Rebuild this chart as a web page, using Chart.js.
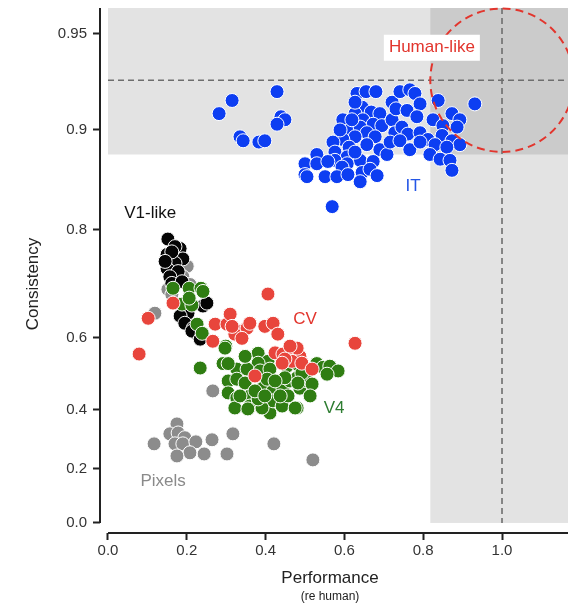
<!DOCTYPE html>
<html>
<head>
<meta charset="utf-8">
<script src="https://cdn.jsdelivr.net/npm/chart.js@4/dist/chart.umd.min.js"></script>
<style>
  html, body { margin: 0; padding: 0; background: #fff; overflow: hidden; }
  canvas { display: block; }
</style>
</head>
<body>
<canvas id="chart" width="568" height="608"></canvas>
<script>
// Axis ticks (consistency is shown on a Fisher-z axis)
const CONS_TICKS = [0, 0.2, 0.4, 0.6, 0.8, 0.9, 0.95];
const CONS_TICK_LABELS = ['0.0', '0.2', '0.4', '0.6', '0.8', '0.9', '0.95'];
const PERF_TICKS = [0, 0.2, 0.4, 0.6, 0.8, 1.0];

// IT (blue)
const IT_PERF = [0.282, 0.315, 0.429, 0.439, 0.449, 0.429, 0.335, 0.343, 0.383, 0.398,
  0.632, 0.655, 0.680, 0.645, 0.627, 0.668, 0.690, 0.596, 0.647, 0.673, 0.695, 0.614, 0.640,
  0.657, 0.627, 0.596, 0.571, 0.678, 0.612, 0.657, 0.690, 0.708, 0.576, 0.530, 0.607, 0.640,
  0.673, 0.500, 0.530, 0.576, 0.607, 0.594, 0.645, 0.665, 0.683, 0.500, 0.505, 0.551, 0.581,
  0.609, 0.640, 0.569, 0.627, 0.619, 0.589, 0.721, 0.721, 0.728, 0.716, 0.558, 0.627,
  0.741, 0.766, 0.779, 0.731, 0.759, 0.792, 0.784, 0.838, 0.931, 0.873, 0.893, 0.825, 0.850,
  0.886, 0.746, 0.761, 0.792, 0.812, 0.848, 0.873, 0.893, 0.741, 0.766, 0.792, 0.830, 0.860,
  0.817, 0.843, 0.868, 0.873];
const IT_CONS = [0.911, 0.919, 0.924, 0.909, 0.907, 0.904, 0.895, 0.892, 0.891, 0.892,
  0.923, 0.924, 0.924, 0.915, 0.911, 0.912, 0.911, 0.907, 0.907, 0.904, 0.903, 0.900, 0.902,
  0.898, 0.895, 0.893, 0.891, 0.895, 0.887, 0.889, 0.885, 0.881, 0.883, 0.881, 0.879, 0.876,
  0.875, 0.873, 0.873, 0.876, 0.873, 0.870, 0.865, 0.868, 0.862, 0.863, 0.861, 0.861, 0.861,
  0.863, 0.856, 0.829, 0.918, 0.907, 0.900, 0.918, 0.907, 0.898, 0.891, 0.875, 0.883,
  0.924, 0.925, 0.923, 0.914, 0.913, 0.917, 0.909, 0.919, 0.917, 0.911, 0.907, 0.907, 0.903,
  0.902, 0.902, 0.897, 0.898, 0.893, 0.896, 0.892, 0.889, 0.892, 0.885, 0.891, 0.889, 0.887,
  0.881, 0.877, 0.876, 0.867];

// V1-like (black)
const V1_PERF = [0.152, 0.183, 0.150, 0.175, 0.190, 0.170, 0.150, 0.178, 0.157, 0.170, 0.162,
  0.188, 0.203, 0.183, 0.195, 0.216, 0.226, 0.241, 0.241, 0.251, 0.213, 0.234, 0.162, 0.145];
const V1_CONS = [0.787, 0.773, 0.764, 0.757, 0.757, 0.750, 0.741, 0.736, 0.727, 0.776, 0.715,
  0.718, 0.656, 0.650, 0.634, 0.623, 0.609, 0.604, 0.671, 0.677, 0.616, 0.597, 0.768, 0.753];

// V4 (green)
const V4_PERF = [0.165, 0.206, 0.236, 0.241, 0.188, 0.213, 0.206, 0.226, 0.239, 0.299,
  0.234, 0.292, 0.381, 0.406, 0.381, 0.327, 0.353, 0.386, 0.411, 0.305, 0.327, 0.348, 0.393,
  0.419, 0.444, 0.449, 0.305, 0.327, 0.360, 0.322, 0.360, 0.381, 0.411, 0.419, 0.442, 0.480,
  0.462, 0.480, 0.487, 0.505, 0.530, 0.546, 0.563, 0.584, 0.556, 0.454, 0.480, 0.297, 0.305,
  0.335, 0.355, 0.391, 0.475, 0.492, 0.449, 0.482, 0.518, 0.457, 0.404, 0.381, 0.348, 0.424,
  0.513, 0.373, 0.437, 0.398];
const V4_CONS = [0.706, 0.706, 0.706, 0.700, 0.675, 0.673, 0.687, 0.632, 0.611, 0.580,
  0.523, 0.535, 0.562, 0.541, 0.536, 0.520, 0.520, 0.515, 0.520, 0.487, 0.492, 0.481, 0.466,
  0.458, 0.466, 0.437, 0.452, 0.437, 0.443, 0.406, 0.412, 0.418, 0.390, 0.428, 0.412, 0.406,
  0.487, 0.496, 0.466, 0.487, 0.535, 0.525, 0.528, 0.515, 0.506, 0.528, 0.534, 0.575, 0.535,
  0.443, 0.403, 0.406, 0.406, 0.509, 0.496, 0.481, 0.478, 0.443, 0.492, 0.434, 0.554, 0.487,
  0.443, 0.458, 0.443, 0.443];

// CV (red)
const CV_PERF = [0.079, 0.102, 0.165, 0.266, 0.272, 0.302, 0.310, 0.335, 0.353, 0.322, 0.340,
  0.315, 0.398, 0.419, 0.431, 0.406, 0.424, 0.444, 0.475, 0.487, 0.467, 0.449, 0.442, 0.492,
  0.518, 0.480, 0.462, 0.373, 0.627, 0.360];
const CV_CONS = [0.560, 0.645, 0.677, 0.592, 0.632, 0.632, 0.654, 0.616, 0.623, 0.609, 0.599,
  0.627, 0.627, 0.634, 0.609, 0.695, 0.563, 0.560, 0.568, 0.554, 0.541, 0.547, 0.536, 0.536,
  0.520, 0.575, 0.580, 0.501, 0.587, 0.634];

// Pixels (gray)
const PX_PERF = [0.117, 0.175, 0.157, 0.178, 0.195, 0.170, 0.190, 0.223, 0.264, 0.208, 0.175,
  0.244, 0.302, 0.317, 0.421, 0.520, 0.266, 0.201, 0.190, 0.152, 0.162, 0.208, 0.119];
const PX_CONS = [0.288, 0.355, 0.322, 0.325, 0.309, 0.288, 0.288, 0.295, 0.302, 0.257, 0.246,
  0.253, 0.253, 0.322, 0.288, 0.232, 0.458, 0.745, 0.727, 0.704, 0.694, 0.713, 0.656];

// Human-like target region
const HUMAN_PERF = 1.0;
const HUMAN_CONS = 0.93;
const HUMAN_BAND_PERF = 0.818;
const HUMAN_BAND_CONS = 0.881;

const FONT = '"Liberation Sans", Arial, sans-serif';

function toPoints(perf, cons) {
  return perf.map((p, i) => ({ x: p, y: Math.atanh(cons[i]) }));
}

function series(label, perf, cons, color, order) {
  return {
    label: label,
    data: toPoints(perf, cons),
    backgroundColor: color,
    borderColor: '#ffffff',
    borderWidth: 1,
    pointRadius: 7,
    order: order
  };
}

// keep the chart area exactly where the axes were fitted
function noPadding(scale) {
  scale.paddingTop = 0;
  scale.paddingBottom = 0;
  scale.paddingLeft = 0;
  scale.paddingRight = 0;
}

/**
 * Shaded bands, dashed guide lines, the circle and the group labels
 */
const decorPlugin = {
  id: 'decor',
  beforeDatasetsDraw(chart) {
    const { ctx, chartArea, scales } = chart;
    const xs = scales.x, ys = scales.y;
    const x0 = xs.getPixelForValue(0);
    const yZero = ys.getPixelForValue(0);
    const bandX = xs.getPixelForValue(HUMAN_BAND_PERF);
    const bandY = ys.getPixelForValue(Math.atanh(HUMAN_BAND_CONS));

    ctx.save();
    ctx.fillStyle = 'rgba(0,0,0,0.11)';
    ctx.fillRect(x0, chartArea.top, chartArea.right - x0, bandY - chartArea.top);
    ctx.fillRect(bandX, chartArea.top, chartArea.right - bandX, yZero - chartArea.top);

    // dashed guide lines through the human point
    const hx = xs.getPixelForValue(HUMAN_PERF);
    const hy = ys.getPixelForValue(Math.atanh(HUMAN_CONS));
    ctx.strokeStyle = '#6e6e6e';
    ctx.lineWidth = 1.6;
    ctx.setLineDash([6, 4]);
    ctx.beginPath();
    ctx.moveTo(x0, hy);
    ctx.lineTo(chartArea.right, hy);
    ctx.moveTo(hx, chartArea.top);
    ctx.lineTo(hx, yZero);
    ctx.stroke();
    ctx.restore();
  },
  afterDatasetsDraw(chart) {
    const { ctx, scales } = chart;
    const xs = scales.x, ys = scales.y;
    const hx = xs.getPixelForValue(HUMAN_PERF);
    const hy = ys.getPixelForValue(Math.atanh(HUMAN_CONS));
    const r = hx - xs.getPixelForValue(HUMAN_BAND_PERF);

    ctx.save();
    ctx.strokeStyle = '#e2352d';
    ctx.lineWidth = 2;
    ctx.setLineDash([8, 5]);
    ctx.beginPath();
    ctx.arc(hx, hy, r, 0, Math.PI * 2);
    ctx.stroke();
    ctx.setLineDash([]);

    const label = (text, perf, cons, color, box) => {
      const px = xs.getPixelForValue(perf);
      const py = ys.getPixelForValue(Math.atanh(cons));
      ctx.font = '17px ' + FONT;
      ctx.textAlign = 'center';
      ctx.textBaseline = 'middle';
      if (box) {
        const w = ctx.measureText(text).width;
        ctx.fillStyle = '#ffffff';
        ctx.fillRect(px - w / 2 - 5, py - 13, w + 10, 26);
      }
      ctx.fillStyle = color;
      ctx.fillText(text, px, py);
    };
    label('Human-like', 0.822, 0.9447, '#e2352d', true);
    label('IT', 0.774, 0.851, '#2456e6', false);
    label('V1-like', 0.107, 0.821, '#111111', false);
    label('CV', 0.50, 0.643, '#e2352d', false);
    label('V4', 0.574, 0.404, '#2e7d32', false);
    label('Pixels', 0.140, 0.154, '#8a8a8a', false);
    ctx.restore();
  },
  afterDraw(chart) {
    const { ctx, chartArea, scales } = chart;
    const xs = scales.x, ys = scales.y;
    ctx.save();
    ctx.strokeStyle = '#222222';
    ctx.lineWidth = 2;
    ctx.beginPath();
    ctx.moveTo(chartArea.left, chartArea.top);
    ctx.lineTo(chartArea.left, ys.getPixelForValue(0));
    ctx.moveTo(xs.getPixelForValue(0), chartArea.bottom);
    ctx.lineTo(chartArea.right, chartArea.bottom);
    ctx.stroke();

    ctx.fillStyle = '#222222';
    ctx.textAlign = 'center';
    ctx.textBaseline = 'middle';
    ctx.font = '17px ' + FONT;
    ctx.fillText('Performance', 330, 578);
    ctx.font = '12px ' + FONT;
    ctx.fillText('(re human)', 330, 597);
    ctx.translate(33, 284);
    ctx.rotate(-Math.PI / 2);
    ctx.font = '17px ' + FONT;
    ctx.fillText('Consistency', 0, 0);
    ctx.restore();
  }
};

const ctx = document.getElementById('chart').getContext('2d');
new Chart(ctx, {
  type: 'scatter',
  data: {
    datasets: [
      series('IT', IT_PERF, IT_CONS, '#0d3ef2', 1),
      series('CV', CV_PERF, CV_CONS, '#e8453c', 2),
      series('V4', V4_PERF, V4_CONS, '#2f7d12', 3),
      series('V1-like', V1_PERF, V1_CONS, '#050505', 4),
      series('Pixels', PX_PERF, PX_CONS, '#8c8c8c', 5)
    ]
  },
  options: {
    responsive: false,
    animation: false,
    devicePixelRatio: 1,
    layout: { autoPadding: false, padding: { top: 8, right: 0, left: 0, bottom: 0 } },
    plugins: {
      legend: { display: false },
      tooltip: { enabled: false }
    },
    scales: {
      x: {
        type: 'linear',
        min: -0.0203,
        max: 1.1675,
        afterBuildTicks: scale => {
          scale.ticks = PERF_TICKS.map(v => ({ value: v }));
        },
        afterFit: scale => { scale.height = 75; noPadding(scale); },
        ticks: {
          callback: v => v.toFixed(1),
          color: '#333333',
          font: { family: FONT, size: 15 },
          padding: 2,
          maxRotation: 0
        },
        grid: {
          drawOnChartArea: false,
          tickLength: 7,
          tickWidth: 2,
          tickColor: '#222222'
        },
        border: { display: false }
      },
      y: {
        type: 'linear',
        min: -0.0375,
        max: 1.929,
        afterBuildTicks: scale => {
          scale.ticks = CONS_TICKS.map(v => ({ value: Math.atanh(v) }));
        },
        afterFit: scale => { scale.width = 100; noPadding(scale); },
        ticks: {
          callback: (v, i) => CONS_TICK_LABELS[i],
          color: '#333333',
          font: { family: FONT, size: 15 },
          padding: 6
        },
        grid: {
          drawOnChartArea: false,
          tickLength: 7,
          tickWidth: 2,
          tickColor: '#222222'
        },
        border: { display: false }
      }
    }
  },
  plugins: [decorPlugin]
});
</script>
</body>
</html>
